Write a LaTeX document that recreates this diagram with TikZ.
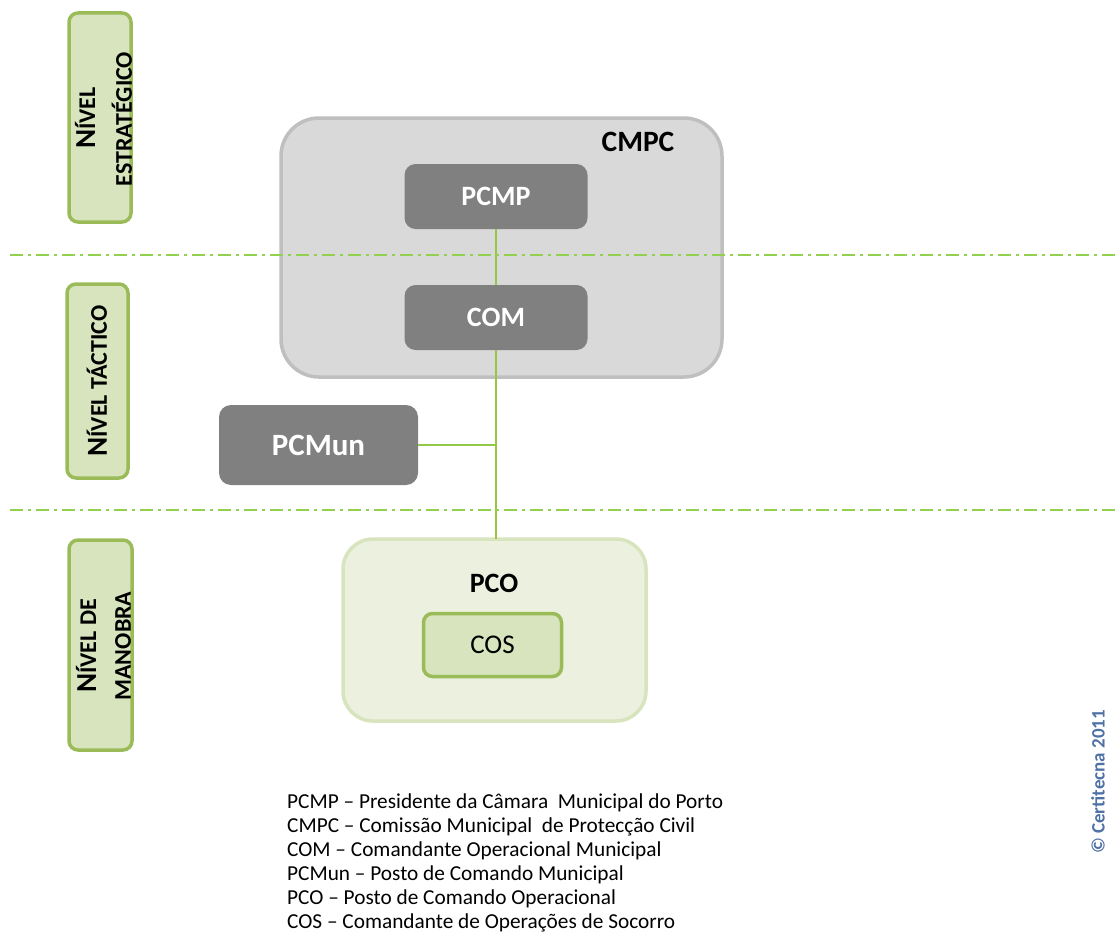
\documentclass[tikz,border=0pt]{standalone}
\usepackage{fontspec}
\setmainfont{Carlito}
\definecolor{lvlfill}{RGB}{215,228,189}
\definecolor{lvldraw}{RGB}{155,187,89}
\definecolor{sep}{RGB}{146,208,80}
\definecolor{conn}{RGB}{146,200,70}
\definecolor{cmpcfill}{RGB}{217,217,217}
\definecolor{cmpcdraw}{RGB}{191,191,191}
\definecolor{darkbox}{RGB}{128,128,128}
\definecolor{pcofill}{RGB}{235,241,222}
\definecolor{pcodraw}{RGB}{215,228,189}
\definecolor{copyc}{RGB}{79,113,165}
\newcommand{\fs}[1]{\fontsize{#1}{#1}\selectfont}
\newcommand{\nv}{{\fs{29}N}{\fs{24}ÍVEL}}
\begin{document}
\begin{tikzpicture}[x=1pt,y=-1pt,
  lvlbox/.style={draw=lvldraw,fill=lvlfill,line width=3.5pt,rounded corners=9pt},
  darkbx/.style={fill=darkbox,rounded corners=11pt},
  sepline/.style={draw=sep,line width=1.6pt,dash pattern=on 13pt off 5pt on 3pt off 5pt},
  connline/.style={draw=conn,line width=2.2pt},
  whitelbl/.style={text=white,font=\bfseries\fs{28}},
  lvltxt/.style={rotate=90,font=\bfseries\fs{24},inner sep=0pt}
]
\useasboundingbox (0,0) rectangle (1117,942);
% level boxes
\draw[lvlbox] (69,13) rectangle (131,222);
\draw[lvlbox] (67,284) rectangle (128,478);
\draw[lvlbox] (69,540) rectangle (132,750);
\node[lvltxt] (l1a) at (85,118) {\nv};
\node[lvltxt] (l1b) at (122,119) {ESTRATÉGICO};
\node[lvltxt] (l2) at (97,381) {\nv{} TÁCTICO};
\node[lvltxt] (l3a) at (86,646) {\nv{} DE};
\node[lvltxt] (l3b) at (123,646) {MANOBRA};
% CMPC container
\draw[draw=cmpcdraw,fill=cmpcfill,line width=3.5pt,rounded corners=38pt] (281,118) rectangle (722,377);
\node[font=\bfseries\fs{29.5}] (cmpc) at (638,142) {CMPC};
\node[darkbx,minimum width=183pt,minimum height=65pt] (pcmp) at (496,196.5) {};
\node[whitelbl] at (pcmp) {PCMP};
\node[darkbx,minimum width=183pt,minimum height=65pt] (com) at (496,317.5) {};
\node[whitelbl] at (com) {COM};
\node[darkbx,minimum width=199pt,minimum height=80pt,rounded corners=12pt] (pcmun) at (318.5,445) {};
\node[whitelbl,font=\bfseries\fs{31}] at (pcmun) {PCMun};
% PCO container
\draw[draw=pcodraw,fill=pcofill,line width=3.5pt,rounded corners=30pt] (343,539) rectangle (646,721);
\coordinate (pcotop) at (496,539);
\node[font=\bfseries\fs{28}] (pco) at (494,583) {PCO};
\node[draw=lvldraw,fill=lvlfill,line width=3.5pt,rounded corners=9pt,minimum width=138pt,minimum height=63pt,font=\fs{27}] (cos) at (492.5,645) {COS};
% connectors
\draw[connline] (pcmp.south) -- (com.north);
\draw[connline] (com.south) -- (pcotop);
\coordinate (junc) at (pcmun.east -| com.south);
\draw[connline] (pcmun.east) -- (junc);
% separators
\draw[sepline] (10,255) -- (1117,255);
\draw[sepline] (10,510) -- (1117,510);
% legend
\node[anchor=north west,align=left,font=\fontsize{21.3}{21}\selectfont,inner sep=0pt] (legend) at (287,794) {%
PCMP – Presidente da Câmara\ \ Municipal do Porto\\[3pt]
CMPC – Comissão Municipal\ \ de Protecção Civil\\[3pt]
COM – Comandante Operacional Municipal\\[3pt]
PCMun – Posto de Comando Municipal\\[3pt]
PCO – Posto de Comando Operacional\\[3pt]
COS – Comandante de Operações de Socorro};
\node[rotate=90,text=copyc,font=\bfseries\fs{19}] (copy) at (1098,782) {© Certitecna 2011};
\end{tikzpicture}
\end{document}
